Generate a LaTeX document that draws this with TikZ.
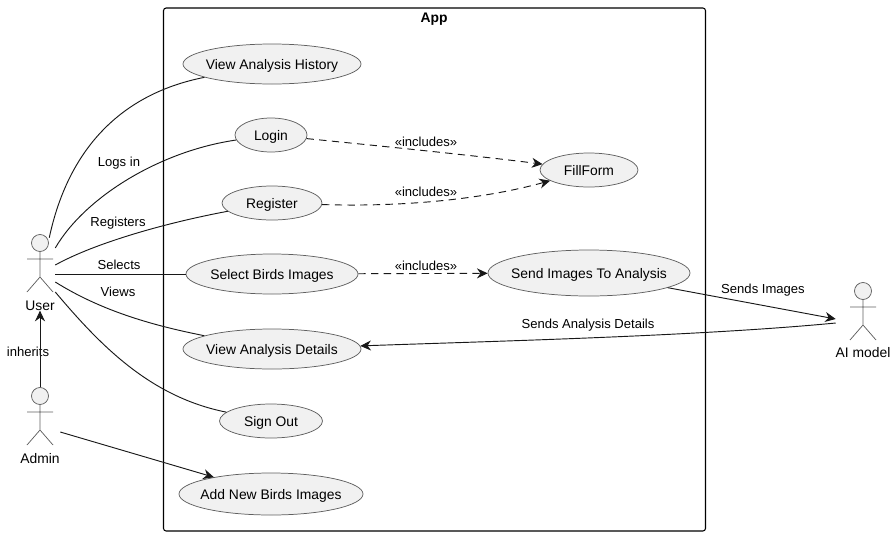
\documentclass[tikz,border=0pt]{standalone}
\usepackage{fontspec}
\setmainfont{Liberation Sans}
\usepackage{xcolor}
\usetikzlibrary{arrows.meta,positioning,shapes,calc}
\definecolor{ucfill}{HTML}{F1F1F1}
\definecolor{ucframe}{HTML}{5F5F5F}
\definecolor{linkdark}{HTML}{181818}
\begin{document}
\begin{tikzpicture}[x=0.75pt,y=-0.75pt,
  usecase/.style={ellipse,draw=ucframe,fill=ucfill,line width=0.55pt,inner ysep=0pt,inner xsep=-8pt,text height=7.5pt,text depth=0pt,font=\fontsize{10.4}{12}\selectfont},
  actorbox/.style={inner sep=0pt,minimum width=22.5pt,minimum height=45pt},
  actorname/.style={inner sep=0pt,font=\fontsize{10.4}{12}\selectfont},
  linklabel/.style={inner sep=0pt,text height=7pt,text depth=0pt,font=\fontsize{9.8}{11}\selectfont},
  assoc/.style={draw=linkdark,line width=0.7pt},
  flow/.style={assoc,-{Stealth[length=8pt,width=7.5pt,inset=2.6pt]}},
  incl/.style={flow,dash pattern=on 5.5pt off 4pt},
  stickman/.pic={
    \draw[ucframe,fill=ucfill,line width=0.55pt] (0,0) circle (8.5);
    \draw[ucframe,line width=0.55pt] (0,8.5)--(0,34) (-13,16)--(13,16) (-13,49)--(0,34)--(13,49);
  }]
\useasboundingbox (0,0) rectangle (896,536);
\draw[black,line width=0.8pt,rounded corners=2pt] (163.5,8) rectangle (705.5,531);
\node[font=\bfseries\fontsize{10.4}{12}\selectfont,inner sep=0pt] (apptitle) at (434,19.5) {App};
% use cases
\node[usecase,minimum width=133.5pt,minimum height=30pt] (history) at (272,64) {View Analysis History};
\node[usecase,minimum width=54pt,minimum height=25.5pt] (login) at (271,135) {Login};
\node[usecase,minimum width=75pt,minimum height=25.5pt] (register) at (272,203) {Register};
\node[usecase,minimum width=129pt,minimum height=30pt] (select) at (272,274) {Select Birds Images};
\node[usecase,minimum width=133.5pt,minimum height=30pt] (details) at (272,349) {View Analysis Details};
\node[usecase,minimum width=77.25pt,minimum height=25.5pt] (signout) at (271,421) {Sign Out};
\node[usecase,minimum width=138pt,minimum height=31.5pt] (addnew) at (271,494) {Add New Birds Images};
\node[usecase,minimum width=73.5pt,minimum height=25.5pt] (fillform) at (589,170) {FillForm};
\node[usecase,minimum width=151.5pt,minimum height=34.5pt] (send) at (589,273) {Send Images To Analysis};
% actors
\pic at (40,243) {stickman};
\pic at (40,396) {stickman};
\pic at (863,291) {stickman};
\node[actorbox] (user) at (40,264) {};
\node[actorbox] (admin) at (40,417) {};
\node[actorbox] (aimodel) at (863,315) {};
\node[actorname] (username) at (40,305.5) {User};
\node[actorname] (adminname) at (40,458.5) {Admin};
\node[actorname] (ainame) at (863,352.5) {AI model};
\coordinate (userhist) at ($(user.north east)+(-6,4)$);
\coordinate (userlogin) at ($(user.east)+(0,-16)$);
\coordinate (userreg) at ($(user.east)+(0,1)$);
\coordinate (userviews) at ($(user.east)+(0,18)$);
\coordinate (usersign) at ($(user.east)+(0,28)$);
\coordinate (aisend) at ($(aimodel.west)+(-12,4)$);
\coordinate (aiback) at ($(aimodel.west)+(-12,8)$);
% labels go first, the lines run over them
\node[linklabel] (lblogs) at (119,162) {Logs in};
\node[linklabel] (lbreg) at (118,222) {Registers};
\node[linklabel] (lbsel) at (119,265) {Selects};
\node[linklabel] (lbviews) at (118,292) {Views};
\node[linklabel] (lbinh) at (28,352) {inherits};
\foreach \n/\y in {inca/142,incb/192,incc/266} \node[linklabel] (\n) at (426,\y) {«includes»};
\node[linklabel] (lbsend) at (763,289) {Sends Images};
\node[linklabel] (lbback) at (588,324) {Sends Analysis Details};
% connectors
\draw[assoc] (userhist) .. controls (68,150) and (120,94) .. (history);
\draw[assoc] (userlogin) .. controls (85,197) and (160,151) .. (login);
\draw[assoc] (userreg) .. controls (95,243) and (165,223) .. (register);
\draw[assoc] (user.east |- select) -- (select);
\draw[assoc] (userviews) .. controls (100,310) and (150,325) .. (details);
\draw[assoc] (usersign) .. controls (100,345) and (150,397) .. (signout);
\draw[flow] (admin.north) -- (username.south);
\draw[flow] ($(admin.east)+(5,15)$) -- (addnew);
\draw[incl] (login) .. controls (380,146) and (470,155) .. (fillform);
\draw[incl] (register) .. controls (400,207) and (480,200) .. (fillform);
\draw[incl] (select) -- (send);
\draw[flow] (send) -- (aisend);
\draw[flow] (aiback) .. controls (700,336) and (500,341) .. (details);
\end{tikzpicture}
\end{document}
